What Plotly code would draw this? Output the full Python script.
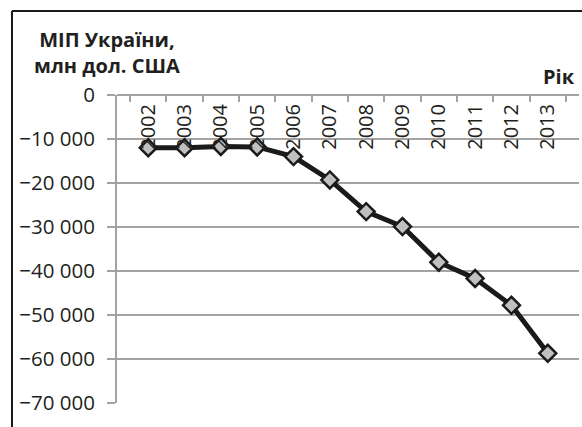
import plotly.graph_objects as go

years = ["2002", "2003", "2004", "2005", "2006", "2007", "2008", "2009", "2010", "2011", "2012", "2013"]
values = [-12000, -12000, -11700, -11800, -14000, -19300, -26500, -29900, -38000, -41700, -47800, -58700]
y_ticks = [0, -10000, -20000, -30000, -40000, -50000, -60000, -70000]

FONT = "Open Sans"
TXT = "#231f20"
GRID = "#a3a3a3"

fig = go.Figure()
fig.add_trace(go.Scatter(
    x=years, y=values, mode="lines+markers",
    line=dict(color="#1a1a1a", width=5),
    marker=dict(symbol="diamond", size=13, color="#c0c0c0",
                line=dict(color="#1a1a1a", width=2.5)),
    cliponaxis=False, showlegend=False, hoverinfo="skip",
))

fig.update_layout(
    width=582, height=427,
    margin=dict(l=117, r=3, t=95, b=24, autoexpand=False),
    paper_bgcolor="white", plot_bgcolor="white",
    separators=", ",
    font=dict(family=FONT, size=20, color=TXT),
    xaxis=dict(
        type="category", side="bottom", anchor="free", position=1,
        showline=True, linecolor=GRID, linewidth=2,
        showgrid=False, zeroline=False,
        ticks="outside", ticklen=6, tickcolor=GRID, tickwidth=2,
        tickson="boundaries",
        tickangle=-90, automargin=False,
        tickfont=dict(family=FONT, size=20, color=TXT),
    ),
    yaxis=dict(
        range=[-70000, 0], tickvals=y_ticks, tickformat=",d",
        showline=True, linecolor=GRID, linewidth=2,
        showgrid=True, gridcolor=GRID, gridwidth=2,
        zeroline=False, automargin=False,
        ticks="outside", ticklen=8, tickcolor=GRID, tickwidth=2,
        ticklabelstandoff=8,
        tickfont=dict(family=FONT, size=20.5, color=TXT),
    ),
    shapes=[
        dict(type="line", xref="paper", yref="paper",
             x0=-0.2273, x1=1.01, y0=1.2727, y1=1.2727,
             line=dict(color="#1a1a1a", width=2)),
        dict(type="line", xref="paper", yref="paper",
             x0=-0.2273, x1=-0.2273, y0=1.2727, y1=-0.08,
             line=dict(color="#1a1a1a", width=2)),
    ],
    annotations=[
        dict(text="<b>МІП України,</b><br><b>млн дол. США</b>", xref="paper", yref="paper",
             x=(107 - 117) / 462, y=(403 - 52) / 308, xanchor="center", yanchor="middle",
             showarrow=False, align="center",
             font=dict(family=FONT, size=20, color=TXT)),
        dict(text="<b>Рік</b>", xref="paper", yref="paper",
             x=(577 - 117) / 462, y=(403 - 77) / 308, xanchor="right", yanchor="middle",
             showarrow=False, font=dict(family=FONT, size=20, color=TXT)),
    ],
)

fig.write_html("out.html", config={"displayModeBar": False},
               post_script="document.body.style.margin='0';")
